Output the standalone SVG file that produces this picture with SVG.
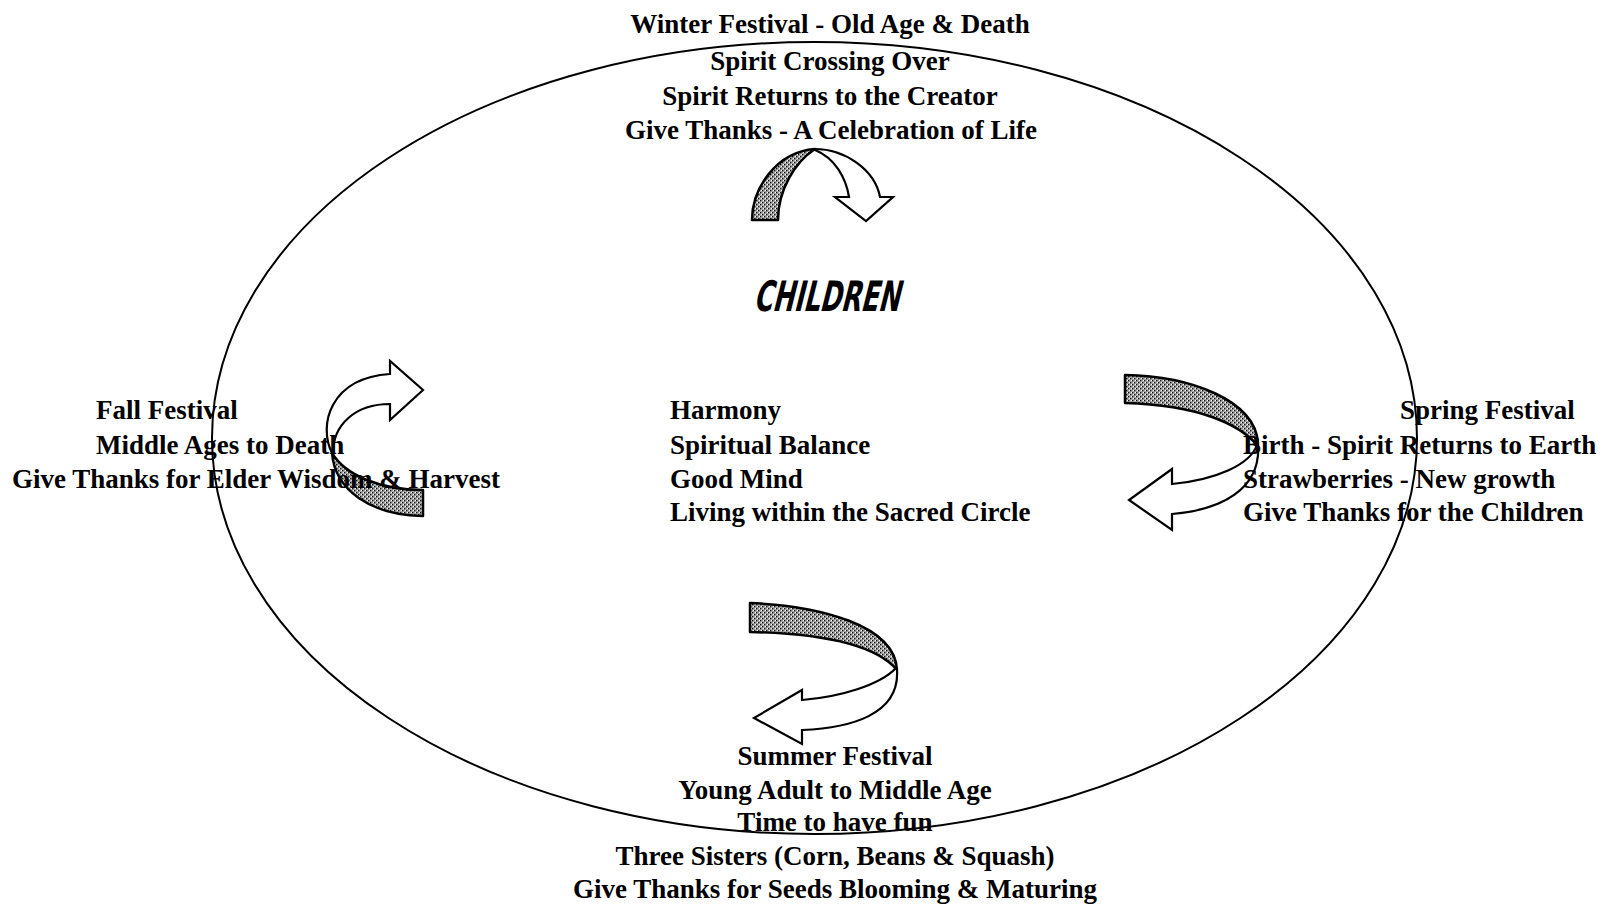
<svg xmlns="http://www.w3.org/2000/svg" width="1617" height="908" viewBox="0 0 1617 908">
  <style>
    .t { font-family: "Liberation Serif", "Times New Roman", serif; font-weight: bold; font-size: 27px; fill: #000; }
    .mid { text-anchor: middle; }
    .kids { font-family: "DejaVu Sans Condensed", "DejaVu Sans", sans-serif; font-weight: bold; font-size: 42px; fill: #000; }
    .band { fill: url(#stipple); stroke: #000; stroke-width: 2.5; stroke-linejoin: round; }
    .arrow { fill: #fff; stroke: #000; stroke-width: 2.2; stroke-linejoin: miter; }
    .ring { fill: none; stroke: #000; stroke-width: 2; }
  </style>
  <defs>
    <pattern id="stipple" width="4" height="4" patternUnits="userSpaceOnUse">
      <rect width="4" height="4" fill="#a8a8a8"/>
      <rect x="0" y="0" width="1.3" height="1.3" fill="#111"/>
      <rect x="2" y="2" width="1.3" height="1.3" fill="#111"/>
      <rect x="3" y="0" width="1" height="1" fill="#fff"/>
      <rect x="1" y="2" width="1" height="1" fill="#fff"/>
    </pattern>
  </defs>
  <rect width="1617" height="908" fill="#fff"/>

  <g id="circle">
    <ellipse class="ring" cx="814.5" cy="438" rx="602.5" ry="396"/>
  </g>

  <g id="connectors">
    <!-- top (winter) arrow -->
    <path class="band" d="M752,220 C752,190 775,152 815,149 C795,162 778,190 778,220 Z"/>
    <path class="arrow" d="M815,149 C845,149 875,170 880,197 L893,197 L866,221 L835,197 L849,197 C846,178 835,158 815,150 Z"/>
    <!-- right (spring) arrow -->
    <path class="band" d="M1125,375 C1190,376 1255,400 1258,443 L1257,445 C1240,425 1200,405 1125,403 Z"/>
    <path class="arrow" d="M1258,443 C1262,490 1220,510 1172,514 L1172,530 L1129,500 L1172,469 L1172,484 C1215,480 1250,465 1257,445 Z"/>
    <!-- bottom (summer) arrow -->
    <path class="band" d="M750,603 C820,606 895,625 897,670 C880,650 840,634 750,632 Z"/>
    <path class="arrow" d="M897,670 C900,715 850,728 802,730 L802,744 L754,718 L802,690 L802,700 C840,697 880,685 896,668 Z"/>
    <!-- left (fall) arrow -->
    <path class="band" d="M332,453 C335,490 370,515 423,516 L423,490 C380,490 345,475 332,453 Z"/>
    <path class="arrow" d="M332,453 C318,425 330,378 390,374 L390,361 L423,390 L390,420 L390,404 C355,404 333,425 333,453 Z"/>
  </g>

  <g id="winter">
    <text class="t mid" x="830" y="33">Winter Festival - Old Age &amp; Death</text>
    <text class="t mid" x="830" y="69.5">Spirit Crossing Over</text>
    <text class="t mid" x="830" y="105">Spirit Returns to the Creator</text>
    <text class="t mid" x="831" y="139">Give Thanks - A Celebration of Life</text>
  </g>

  <g id="children">
    <text class="kids" x="0" y="0" transform="translate(753,311) skewX(-14)" textLength="146" lengthAdjust="spacingAndGlyphs">CHILDREN</text>
  </g>

  <g id="center">
    <text class="t" x="670" y="419">Harmony</text>
    <text class="t" x="670" y="453.5">Spiritual Balance</text>
    <text class="t" x="670" y="487.5">Good Mind</text>
    <text class="t" x="670" y="521">Living within the Sacred Circle</text>
  </g>

  <g id="fall">
    <text class="t" x="96" y="419">Fall Festival</text>
    <text class="t" x="96" y="453.5">Middle Ages to Death</text>
    <text class="t" x="12" y="487.5">Give Thanks for Elder Wisdom &amp; Harvest</text>
  </g>

  <g id="spring">
    <text class="t" x="1400" y="419">Spring Festival</text>
    <text class="t" x="1243" y="453.5">Birth - Spirit Returns to Earth</text>
    <text class="t" x="1243" y="487.5">Strawberries - New growth</text>
    <text class="t" x="1243" y="521">Give Thanks for the Children</text>
  </g>

  <g id="summer">
    <text class="t mid" x="835" y="765">Summer Festival</text>
    <text class="t mid" x="835" y="799">Young Adult to Middle Age</text>
    <text class="t mid" x="835" y="831">Time to have fun</text>
    <text class="t mid" x="835" y="865">Three Sisters (Corn, Beans &amp; Squash)</text>
    <text class="t mid" x="835" y="898">Give Thanks for Seeds Blooming &amp; Maturing</text>
  </g>
</svg>
